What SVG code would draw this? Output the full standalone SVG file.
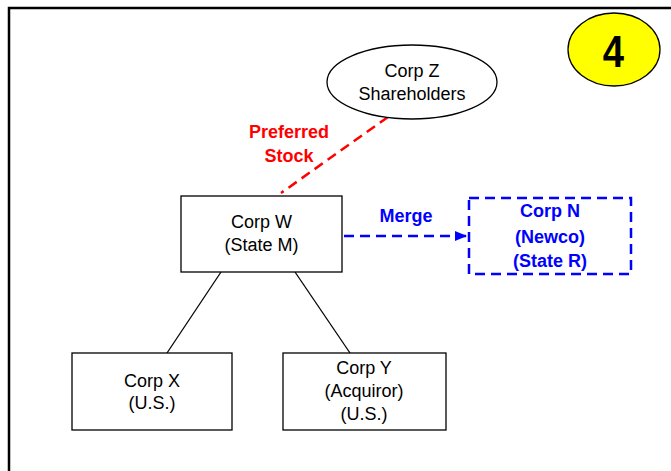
<svg xmlns="http://www.w3.org/2000/svg" width="671" height="471" viewBox="0 0 671 471">
<defs>
<style>
text{font-family:"Liberation Sans",Arial,sans-serif;font-size:18px;text-anchor:middle;fill:#000}
.b{font-weight:bold}
.red{fill:#ff0000}
.blue{fill:#0000ff}
.box{fill:#fff;stroke:#000;stroke-width:1.3}
.line{stroke:#000;stroke-width:1.3;fill:none}
</style>
<marker id="ah" markerWidth="12" markerHeight="10" refX="12" refY="5" orient="auto" markerUnits="userSpaceOnUse">
<path d="M0,0 L12,5 L0,10 Z" fill="#0000ff"/>
</marker>
</defs>
<rect x="0" y="0" width="671" height="471" fill="#fff"/>
<path d="M9,471 L9,8 L671,8" fill="none" stroke="#000" stroke-width="2.5"/>
<g id="connectors">
<line x1="388" y1="117" x2="281" y2="193" stroke="#ff0000" stroke-width="2.5" stroke-dasharray="10,6"/>
<line x1="344" y1="236" x2="467" y2="236" stroke="#0000ff" stroke-width="2.5" stroke-dasharray="10,6" marker-end="url(#ah)"/>
<line class="line" x1="221" y1="272" x2="167" y2="353"/>
<line class="line" x1="295" y1="272" x2="350" y2="353"/>
<text class="b red" x="289" y="138">Preferred</text>
<text class="b red" x="289" y="162">Stock</text>
<text class="b blue" x="406" y="222">Merge</text>
</g>
<g id="badge">
<ellipse cx="614" cy="49.5" rx="46" ry="36.5" fill="#ffff00" stroke="#000" stroke-width="1.3"/>
<text class="b" x="0" y="0" style="font-size:45px" transform="translate(613.5,67) scale(0.85,1)">4</text>
</g>
<g id="corpZ">
<ellipse cx="412" cy="82" rx="85" ry="37" class="box"/>
<text x="412" y="77">Corp Z</text>
<text x="412" y="100">Shareholders</text>
</g>
<g id="corpW">
<rect x="181" y="196" width="161" height="76" class="box"/>
<text x="261.5" y="228">Corp W</text>
<text x="261.5" y="251">(State M)</text>
</g>
<g id="corpN">
<rect x="469" y="198" width="162" height="76" fill="#fff" stroke="#0000ff" stroke-width="2.5" stroke-dasharray="10,6"/>
<text class="b blue" x="550" y="217">Corp N</text>
<text class="b blue" x="550" y="243">(Newco)</text>
<text class="b blue" x="550" y="267">(State R)</text>
</g>
<g id="corpX">
<rect x="72" y="353" width="160" height="77" class="box"/>
<text x="152" y="387">Corp X</text>
<text x="152" y="409">(U.S.)</text>
</g>
<g id="corpY">
<rect x="283" y="353" width="163" height="77" class="box"/>
<text x="364" y="374">Corp Y</text>
<text x="364" y="397">(Acquiror)</text>
<text x="364" y="420">(U.S.)</text>
</g>
</svg>
